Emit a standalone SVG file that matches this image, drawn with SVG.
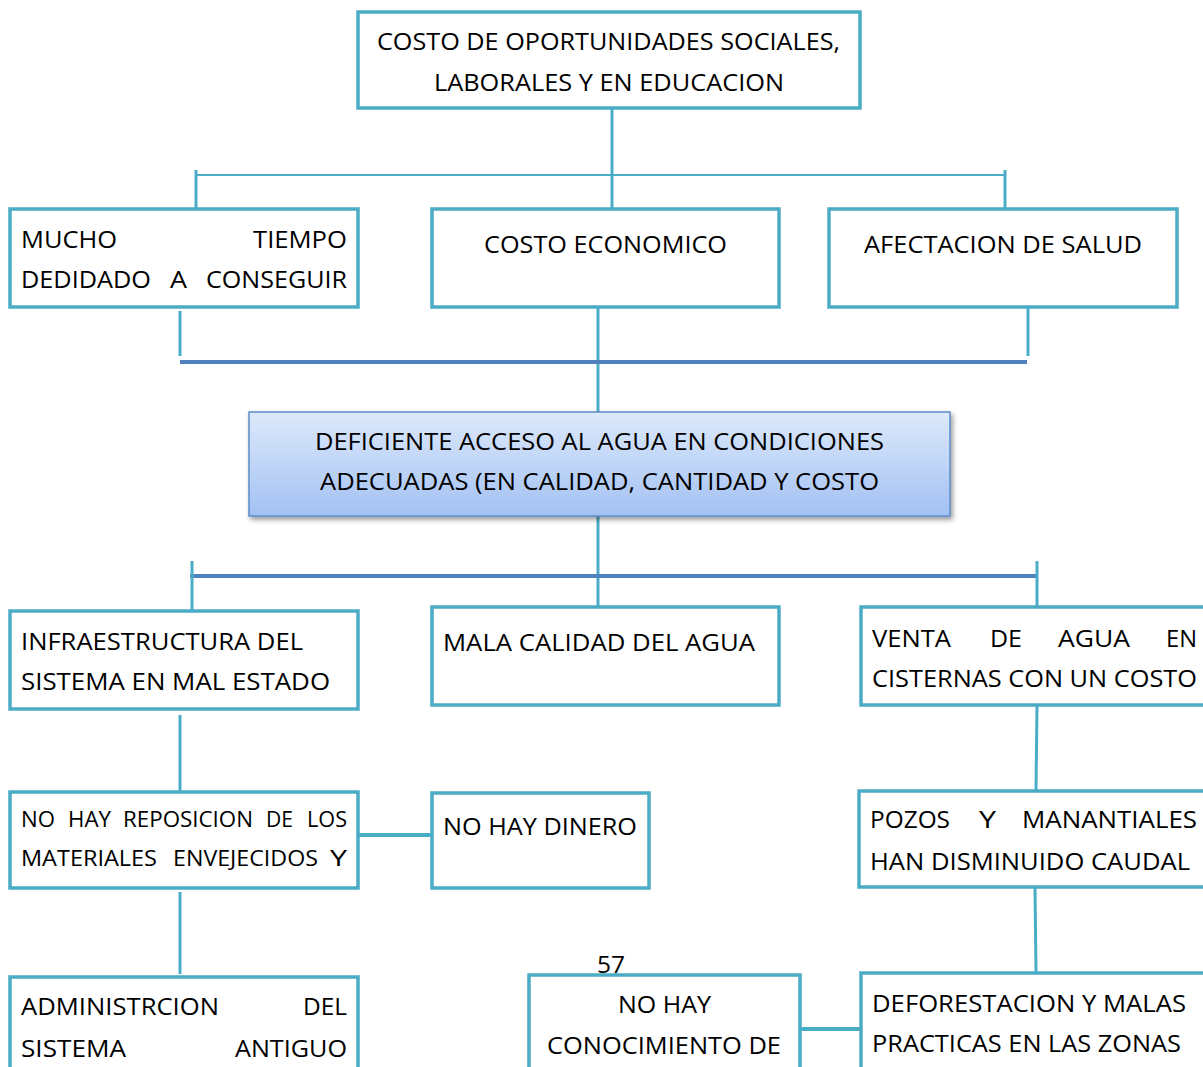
<svg xmlns="http://www.w3.org/2000/svg" width="1203" height="1067" viewBox="0 0 1203 1067">
<style>
.box{fill:#fff;stroke:#4bacc6;stroke-width:3.5}
.c{stroke:#4bacc6;stroke-width:3;fill:none}
.ct{stroke:#4bacc6;stroke-width:4;fill:none}
.b{stroke:#4f81bd;stroke-width:4;fill:none}
text{font-family:"Open Sans","Liberation Sans",sans-serif;font-size:23px;fill:#000}
.s{font-size:21px}
</style>
<defs>
<linearGradient id="g" x1="0" y1="0" x2="0" y2="1">
<stop offset="0" stop-color="#dde9fb"/>
<stop offset="1" stop-color="#a3c1f3"/>
</linearGradient>
<filter id="sh" x="-5%" y="-20%" width="110%" height="150%">
<feDropShadow dx="2" dy="3" stdDeviation="2.5" flood-color="#000" flood-opacity="0.4"/>
</filter>
</defs>
<g id="connectors">
<line class="c" x1="612" y1="108" x2="612" y2="209"/>
<line x1="196" y1="175" x2="1005" y2="175" stroke="#4bacc6" stroke-width="2"/>
<line class="c" x1="196" y1="170" x2="196" y2="209"/>
<line class="c" x1="1005" y1="170" x2="1005" y2="209"/>
<line class="c" x1="180" y1="311" x2="180" y2="356"/>
<line class="c" x1="598" y1="307" x2="598" y2="412"/>
<line class="c" x1="1028" y1="307" x2="1028" y2="356"/>
<line class="b" x1="180" y1="362" x2="1027" y2="362"/>
<line class="c" x1="598" y1="516" x2="598" y2="607"/>
<line class="b" x1="190" y1="576" x2="1038" y2="576"/>
<line class="c" x1="192" y1="561" x2="192" y2="611"/>
<line class="c" x1="1037" y1="561" x2="1037" y2="607"/>
<line class="c" x1="180" y1="715" x2="180" y2="791"/>
<line class="c" x1="1037" y1="705" x2="1036" y2="791"/>
<line class="ct" x1="358" y1="835" x2="432" y2="835"/>
<line class="c" x1="180" y1="892" x2="180" y2="974"/>
<line class="c" x1="1035" y1="887" x2="1036" y2="973"/>
<line class="ct" x1="800" y1="1029" x2="861" y2="1029"/>
</g>
<g id="n-top">
<rect class="box" x="358" y="12" width="502" height="96"/>
<text x="377" y="50" textLength="463" lengthAdjust="spacingAndGlyphs">COSTO DE OPORTUNIDADES SOCIALES,</text>
<text x="434" y="91" textLength="350" lengthAdjust="spacingAndGlyphs">LABORALES Y EN EDUCACION</text>
</g>
<g id="n-tiempo">
<rect class="box" x="10" y="209" width="348" height="98"/>
<text x="21" y="248" textLength="96" lengthAdjust="spacingAndGlyphs">MUCHO</text>
<text x="253" y="248" textLength="94" lengthAdjust="spacingAndGlyphs">TIEMPO</text>
<text x="21" y="288" textLength="130" lengthAdjust="spacingAndGlyphs">DEDIDADO</text>
<text x="170" y="288" textLength="17" lengthAdjust="spacingAndGlyphs">A</text>
<text x="206" y="288" textLength="141" lengthAdjust="spacingAndGlyphs">CONSEGUIR</text>
</g>
<g id="n-costo">
<rect class="box" x="432" y="209" width="347" height="98"/>
<text x="484" y="253" textLength="243" lengthAdjust="spacingAndGlyphs">COSTO ECONOMICO</text>
</g>
<g id="n-salud">
<rect class="box" x="829" y="209" width="348" height="98"/>
<text x="864" y="253" textLength="278" lengthAdjust="spacingAndGlyphs">AFECTACION DE SALUD</text>
</g>
<g id="n-central">
<rect x="249" y="412" width="701" height="104" fill="url(#g)" stroke="#5b8cc8" stroke-width="1.5" filter="url(#sh)"/>
<text x="315" y="450" textLength="569" lengthAdjust="spacingAndGlyphs">DEFICIENTE ACCESO AL AGUA EN CONDICIONES</text>
<text x="320" y="490" textLength="559" lengthAdjust="spacingAndGlyphs">ADECUADAS (EN CALIDAD, CANTIDAD Y COSTO</text>
</g>
<g id="n-infra">
<rect class="box" x="10" y="611" width="348" height="98"/>
<text x="21" y="650" textLength="282" lengthAdjust="spacingAndGlyphs">INFRAESTRUCTURA DEL</text>
<text x="21" y="690" textLength="309" lengthAdjust="spacingAndGlyphs">SISTEMA EN MAL ESTADO</text>
</g>
<g id="n-mala">
<rect class="box" x="432" y="607" width="347" height="98"/>
<text x="443" y="651" textLength="312" lengthAdjust="spacingAndGlyphs">MALA CALIDAD DEL AGUA</text>
</g>
<g id="n-venta">
<rect class="box" x="861" y="607" width="350" height="98"/>
<text x="872" y="647" textLength="79" lengthAdjust="spacingAndGlyphs">VENTA</text>
<text x="990" y="647" textLength="32" lengthAdjust="spacingAndGlyphs">DE</text>
<text x="1058" y="647" textLength="72" lengthAdjust="spacingAndGlyphs">AGUA</text>
<text x="1166" y="647" textLength="31" lengthAdjust="spacingAndGlyphs">EN</text>
<text x="872" y="687" textLength="325" lengthAdjust="spacingAndGlyphs">CISTERNAS CON UN COSTO</text>
</g>
<g id="n-reposicion">
<rect class="box" x="10" y="792" width="348" height="96"/>
<text class="s" x="21" y="827" textLength="34" lengthAdjust="spacingAndGlyphs">NO</text>
<text class="s" x="68" y="827" textLength="43" lengthAdjust="spacingAndGlyphs">HAY</text>
<text class="s" x="123" y="827" textLength="130" lengthAdjust="spacingAndGlyphs">REPOSICION</text>
<text class="s" x="266" y="827" textLength="27" lengthAdjust="spacingAndGlyphs">DE</text>
<text class="s" x="307" y="827" textLength="40" lengthAdjust="spacingAndGlyphs">LOS</text>
<text class="s" x="21" y="866" textLength="136" lengthAdjust="spacingAndGlyphs">MATERIALES</text>
<text class="s" x="173" y="866" textLength="145" lengthAdjust="spacingAndGlyphs">ENVEJECIDOS</text>
<text class="s" x="330" y="866" textLength="17" lengthAdjust="spacingAndGlyphs">Y</text>
</g>
<g id="n-dinero">
<rect class="box" x="432" y="793" width="217" height="95"/>
<text x="443" y="835" textLength="194" lengthAdjust="spacingAndGlyphs">NO HAY DINERO</text>
</g>
<g id="n-pozos">
<rect class="box" x="859" y="791" width="352" height="96"/>
<text x="870" y="828" textLength="80" lengthAdjust="spacingAndGlyphs">POZOS</text>
<text x="979" y="828" textLength="17" lengthAdjust="spacingAndGlyphs">Y</text>
<text x="1022" y="828" textLength="175" lengthAdjust="spacingAndGlyphs">MANANTIALES</text>
<text x="870" y="870" textLength="320" lengthAdjust="spacingAndGlyphs">HAN DISMINUIDO CAUDAL</text>
</g>
<g id="n-admin">
<rect class="box" x="10" y="977" width="348" height="100"/>
<text x="21" y="1015" textLength="198" lengthAdjust="spacingAndGlyphs">ADMINISTRCION</text>
<text x="303" y="1015" textLength="44" lengthAdjust="spacingAndGlyphs">DEL</text>
<text x="21" y="1057" textLength="105" lengthAdjust="spacingAndGlyphs">SISTEMA</text>
<text x="235" y="1057" textLength="112" lengthAdjust="spacingAndGlyphs">ANTIGUO</text>
</g>
<g id="page-number">
<text x="597" y="973" textLength="28" lengthAdjust="spacingAndGlyphs">57</text>
</g>
<g id="n-conocimiento">
<rect class="box" x="529" y="975" width="271" height="102"/>
<text x="618" y="1013" textLength="93" lengthAdjust="spacingAndGlyphs">NO HAY</text>
<text x="547" y="1054" textLength="234" lengthAdjust="spacingAndGlyphs">CONOCIMIENTO DE</text>
</g>
<g id="n-deforestacion">
<rect class="box" x="861" y="973" width="350" height="104"/>
<text x="872" y="1012" textLength="314" lengthAdjust="spacingAndGlyphs">DEFORESTACION Y MALAS</text>
<text x="872" y="1052" textLength="309" lengthAdjust="spacingAndGlyphs">PRACTICAS EN LAS ZONAS</text>
</g>
</svg>
